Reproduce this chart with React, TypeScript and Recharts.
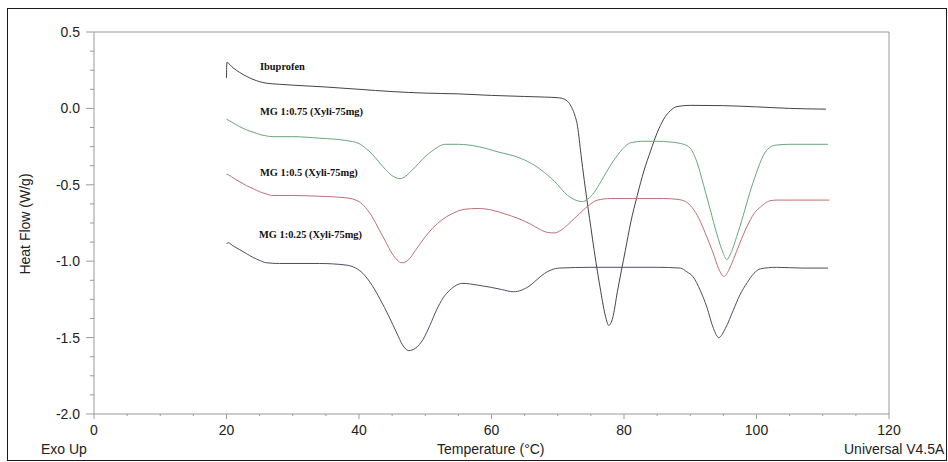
import React from 'react';
import { LineChart, Line, XAxis, YAxis, ReferenceLine } from 'recharts';

// DSC traces: temperature (°C) and heat flow (W/g)
const ibuTemp = [20, 20.05, 21, 22, 23, 24, 25, 26, 28, 30, 35, 40, 45, 50, 55, 60, 65, 68, 70, 71, 71.5, 72, 72.5, 73, 73.5, 74, 74.6, 75, 75.5, 76, 76.5, 77.2, 77.7, 78.3, 79, 80.2, 81, 82, 83, 84, 85, 86, 87, 88, 90, 95, 100, 105, 110.5];
const ibuFlow = [0.2, 0.3, 0.265, 0.235, 0.21, 0.19, 0.175, 0.165, 0.158, 0.152, 0.14, 0.125, 0.11, 0.1, 0.095, 0.085, 0.078, 0.074, 0.07, 0.06, 0.045, 0.015, -0.035, -0.12, -0.3, -0.47, -0.66, -0.78, -0.93, -1.07, -1.2, -1.36, -1.42, -1.37, -1.2, -0.93, -0.75, -0.57, -0.41, -0.28, -0.16, -0.07, -0.015, 0.012, 0.02, 0.018, 0.01, 0.0, -0.005];

const mg075Temp = [20, 21, 22, 23, 24, 25, 26, 27, 30, 34, 38, 40, 41, 42, 43, 44, 45, 46.2, 47, 48, 49, 50, 51, 52, 53, 55, 58, 61, 64, 66, 68, 70, 71, 72, 73, 73.7, 74.5, 75.5, 76.5, 78, 79.5, 81, 83, 85, 87, 88, 89, 90, 91, 92, 93, 94, 95, 95.5, 96, 97, 98, 99, 100, 101, 102, 103, 105, 110.8];
const mg075Flow = [-0.07, -0.095, -0.12, -0.14, -0.155, -0.17, -0.18, -0.185, -0.185, -0.195, -0.21, -0.23, -0.26, -0.3, -0.35, -0.4, -0.44, -0.46, -0.445, -0.405, -0.36, -0.315, -0.28, -0.25, -0.235, -0.235, -0.25, -0.285, -0.32, -0.36, -0.42, -0.5, -0.55, -0.585, -0.605, -0.61, -0.595, -0.55, -0.48, -0.37, -0.28, -0.225, -0.215, -0.215, -0.22, -0.225, -0.235, -0.26, -0.35, -0.5, -0.66, -0.82, -0.95, -0.99, -0.96, -0.84, -0.7, -0.55, -0.42, -0.31, -0.255, -0.24, -0.235, -0.235];

const mg05Temp = [20, 20.5, 21, 22, 23, 24, 25, 26, 27, 30, 34, 38, 40, 41, 42, 43, 44, 45, 46.5, 47.5, 48.5, 50, 51.2, 52.5, 54, 56, 58, 60, 62, 64, 66, 67, 68.5, 69.5, 70.5, 71.5, 72.5, 73.5, 74.4, 76, 78, 82, 86, 88, 89.3, 90.3, 91.3, 92.3, 93.4, 94.3, 95.1, 95.8, 96.5, 97.5, 98.6, 99.6, 100.6, 102, 103, 106, 111];
const mg05Flow = [-0.43, -0.44, -0.455, -0.48, -0.505, -0.525, -0.545, -0.56, -0.57, -0.57, -0.575, -0.585, -0.61, -0.65, -0.71, -0.79, -0.87, -0.95, -1.01, -0.99, -0.93, -0.84, -0.78, -0.73, -0.69, -0.66, -0.655, -0.665, -0.69, -0.72, -0.76, -0.785, -0.812, -0.815, -0.797, -0.762, -0.72, -0.68, -0.645, -0.6, -0.59, -0.59, -0.59, -0.595, -0.61, -0.65, -0.72, -0.82, -0.94, -1.05, -1.1, -1.06, -0.99, -0.88, -0.77, -0.69, -0.645, -0.605, -0.6, -0.6, -0.6];

const mg025Temp = [20, 20.3, 21, 22, 23, 24, 25, 26, 28, 34, 38, 39.5, 40.6, 42, 43.2, 44.5, 45.7, 46.6, 47.5, 48.5, 49.7, 50.7, 51.7, 52.7, 53.7, 55.7, 57.7, 59.8, 61.5, 63.3, 64.5, 65.8, 67, 68, 69, 70.3, 75, 80, 85, 88.5, 89.5, 90.4, 91.5, 92.5, 93.5, 94.3, 95.3, 96.5, 97.5, 98.6, 99.6, 100.6, 103, 107, 110.8];
const mg025Flow = [-0.885, -0.88, -0.9, -0.925, -0.95, -0.975, -0.995, -1.01, -1.015, -1.015, -1.025, -1.045, -1.08, -1.16, -1.25, -1.36, -1.47, -1.55, -1.585, -1.57, -1.51, -1.42, -1.32, -1.24, -1.19, -1.145, -1.155, -1.17, -1.185, -1.2, -1.19, -1.16, -1.115, -1.08, -1.057, -1.045, -1.04, -1.04, -1.04, -1.045, -1.07, -1.1, -1.19, -1.3, -1.44, -1.5, -1.44, -1.32, -1.22, -1.14, -1.08, -1.05, -1.04, -1.045, -1.045];

const xTicks = [0, 5, 10, 15, 20, 25, 30, 35, 40, 45, 50, 55, 60, 65, 70, 75, 80, 85, 90, 95, 100, 105, 110, 115, 120];
const xLabels = [0, 20, 40, 60, 80, 100, 120];
const yTicks = [-2, -1.875, -1.75, -1.625, -1.5, -1.375, -1.25, -1.125, -1, -0.875, -0.75, -0.625, -0.5, -0.375, -0.25, -0.125, 0, 0.125, 0.25, 0.375, 0.5];
const yLabels = [-2, -1.5, -1, -0.5, 0, 0.5];

const toPoints = (temp: number[], flow: number[]) => temp.map((t, i) => ({ t, hf: flow[i] }));

const series = [
  { name: 'Ibuprofen', data: toPoints(ibuTemp, ibuFlow), color: '#444444' },
  { name: 'MG 1:0.75 (Xyli-75mg)', data: toPoints(mg075Temp, mg075Flow), color: '#6aa57c' },
  { name: 'MG 1:0.5 (Xyli-75mg)', data: toPoints(mg05Temp, mg05Flow), color: '#bd7076' },
  { name: 'MG 1:0.25 (Xyli-75mg)', data: toPoints(mg025Temp, mg025Flow), color: '#4d4d68' },
];

const axisColor = '#9a9a9a';
const sans = '"Liberation Sans", Arial, sans-serif';

const YTick = ({ x, y, payload }: any) => {
  const major = yLabels.includes(payload.value);
  return (
    <g>
      <line x1={x} x2={x - (major ? 8 : 4)} y1={y} y2={y} stroke={axisColor} />
      {major && (
        <text x={x - 14} y={y + 5} textAnchor="end" fontSize={14} fill="#222" fontFamily={sans}>
          {payload.value.toFixed(1)}
        </text>
      )}
    </g>
  );
};

const XTick = ({ x, y, payload }: any) => {
  const major = xLabels.includes(payload.value);
  return (
    <g>
      <line x1={x} x2={x} y1={y} y2={y + (major ? 5 : 2)} stroke={axisColor} />
      {major && (
        <text x={x} y={y + 21} textAnchor="middle" fontSize={14} fill="#222" fontFamily={sans}>
          {payload.value}
        </text>
      )}
    </g>
  );
};

const labelStyle: React.CSSProperties = {
  position: 'absolute', left: 260, fontFamily: '"Liberation Serif", "Times New Roman", serif',
  fontWeight: 'bold', fontSize: 10.4, color: '#111', whiteSpace: 'nowrap', lineHeight: '12px',
};
const textStyle: React.CSSProperties = {
  position: 'absolute', fontFamily: sans, fontSize: 14, color: '#222', whiteSpace: 'nowrap', lineHeight: '16px',
};

export default function App() {
  return (
    <div style={{ position: 'absolute', left: 0, top: 0, width: 948, height: 462, background: '#fff', overflow: 'hidden' }}>
      <div style={{ position: 'absolute', left: 7, top: 8, width: 940, height: 453, border: '1.5px solid #1a1a1a', boxSizing: 'border-box' }} />
      <LineChart width={948} height={462} margin={{ top: 32, right: 59, bottom: 18, left: 0 }}>
        <XAxis
          type="number" dataKey="t" domain={[0, 120]} ticks={xTicks} interval={0}
          height={30} tickSize={0} tickMargin={0} tick={<XTick />} stroke={axisColor} allowDataOverflow
        />
        <YAxis
          type="number" dataKey="hf" domain={[-2, 0.5]} ticks={yTicks} interval={0}
          width={94} tickSize={0} tickMargin={0} tick={<YTick />} stroke={axisColor} allowDataOverflow
        />
        <ReferenceLine y={0.5} stroke={axisColor} />
        <ReferenceLine x={120} stroke={axisColor} />
        {series.map(s => (
          <Line
            key={s.name} data={s.data} dataKey="hf" type="monotone" stroke={s.color}
            strokeWidth={1} dot={false} isAnimationActive={false}
          />
        ))}
      </LineChart>
      <div style={{ ...labelStyle, top: 61 }}>Ibuprofen</div>
      <div style={{ ...labelStyle, top: 106 }}>MG 1:0.75 (Xyli-75mg)</div>
      <div style={{ ...labelStyle, top: 167 }}>MG 1:0.5 (Xyli-75mg)</div>
      <div style={{ ...labelStyle, top: 229, left: 259 }}>MG 1:0.25 (Xyli-75mg)</div>
      <div style={{ ...textStyle, left: 25, top: 224, transform: 'translate(-50%, -50%) rotate(-90deg)' }}>Heat Flow (W/g)</div>
      <div style={{ ...textStyle, left: 41, top: 441 }}>Exo Up</div>
      <div style={{ ...textStyle, left: 437, top: 441 }}>Temperature (°C)</div>
      <div style={{ ...textStyle, left: 844, top: 441 }}>Universal V4.5A</div>
    </div>
  );
}
